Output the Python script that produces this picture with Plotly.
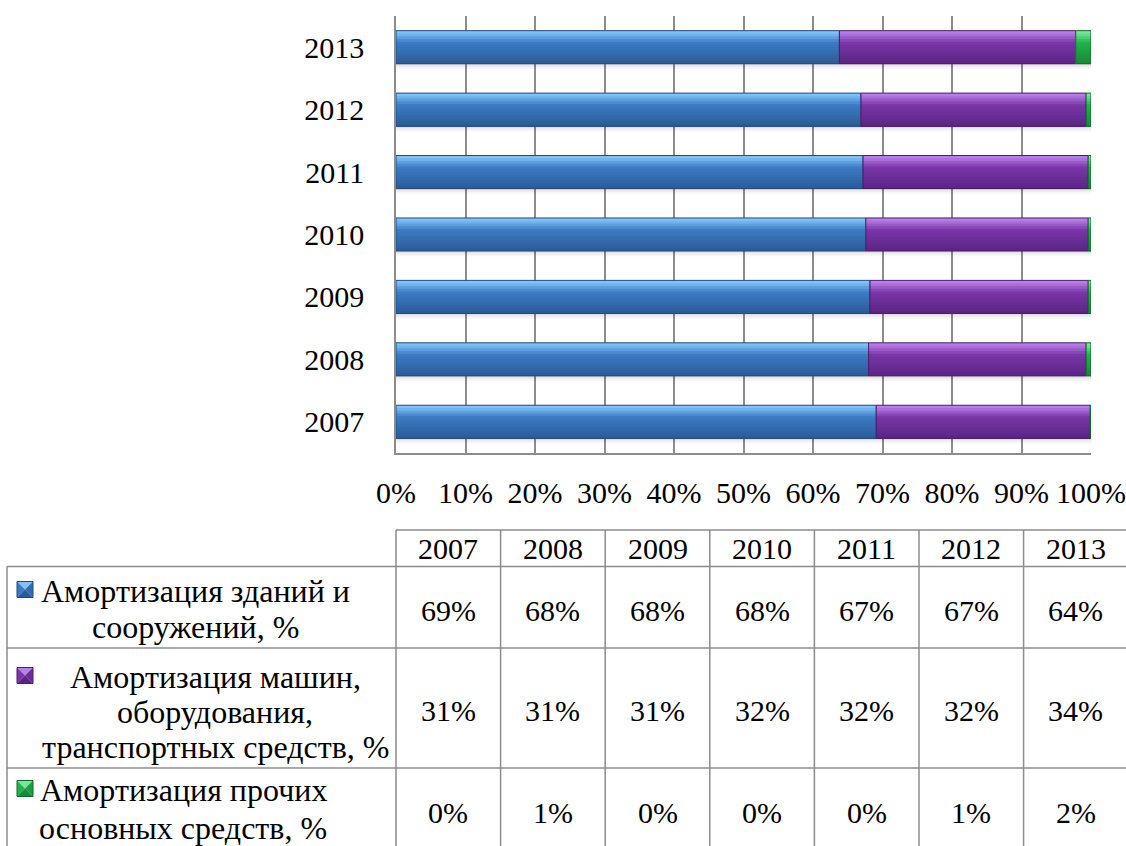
import plotly.graph_objects as go

# ---------------- data ----------------
years = ["2007", "2008", "2009", "2010", "2011", "2012", "2013"]
buildings = [69.1, 68.0, 68.2, 67.6, 67.2, 66.9, 63.8]   # Амортизация зданий и сооружений, %
machinery = [30.8, 31.3, 31.4, 32.0, 32.4, 32.4, 34.0]   # Амортизация машин, оборудования, транспортных средств, %
other = [0.1, 0.7, 0.4, 0.4, 0.4, 0.7, 2.2]              # Амортизация прочих основных средств, %
series_label_lines = [
    ["Амортизация зданий и", "сооружений, %"],
    ["Амортизация машин,", "оборудования,", "транспортных средств, %"],
    ["Амортизация прочих", "основных средств, %"],
]
x_ticks = [0, 10, 20, 30, 40, 50, 60, 70, 80, 90, 100]

# ---------------- styles ----------------
W, H = 1126, 846
PL, PR, PT, PB = 396, 1091, 16, 453          # plot area in pixels
FONT = "Liberation Serif"
FS = 30
FS_LABEL = 32
GRID = "#8c8c8c"
palettes = [
    # light, mid, dark, edge
    ("#82c2f8", "#3c7bc4", "#2b5b97", "#234a7c"),
    ("#b97fe9", "#7a36a8", "#5b2484", "#4a1d6c"),
    ("#74e897", "#21b34a", "#168a36", "#0f6a28"),
]
BAR_W = 0.53
N_STRIPES = 12


def hex2rgb(h):
    h = h.lstrip("#")
    return tuple(int(h[i:i + 2], 16) for i in (0, 2, 4))


def lerp(c1, c2, t):
    a, b = hex2rgb(c1), hex2rgb(c2)
    return "rgb(%d,%d,%d)" % tuple(round(a[i] + (b[i] - a[i]) * t) for i in range(3))


def grad(pal, t):
    light, mid, dark, _ = pal
    if t < 0.06:
        return lerp(light, light, 0)
    if t < 0.36:
        return lerp(light, mid, (t - 0.06) / 0.30)
    return lerp(mid, dark, (t - 0.36) / 0.64)


def px(x):
    return (x - PL) / (PR - PL)


def py(y):
    return (PB - y) / (PB - PT)


series = [buildings, machinery, other]
fig = go.Figure()

# soft shadow under each full bar
totals = [sum(v) for v in zip(*series)]
for k, a in enumerate([0.13, 0.07, 0.03]):
    fig.add_trace(go.Bar(
        y=years, x=totals, base=[0] * len(years), orientation="h",
        offset=-BAR_W / 2 - 0.028 * (k + 1), width=0.028,
        marker=dict(color="rgba(0,0,0,%.3f)" % a, line=dict(width=0)),
        hoverinfo="skip"))

# stacked segments with vertical gradient (each stripe reaches the bar bottom -> no seams)
bases = [0.0] * len(years)
for s, vals in enumerate(series):
    pal = palettes[s]
    h = BAR_W / N_STRIPES
    for i in range(N_STRIPES):
        t = (i + 0.5) / N_STRIPES
        top = BAR_W / 2 - i * h
        fig.add_trace(go.Bar(
            y=years, x=vals, base=list(bases), orientation="h",
            offset=-BAR_W / 2, width=top + BAR_W / 2,
            marker=dict(color=grad(pal, t), line=dict(width=0)),
            hoverinfo="skip"))
    fig.add_trace(go.Bar(
        y=years, x=vals, base=list(bases), orientation="h",
        offset=-BAR_W / 2, width=BAR_W,
        marker=dict(color="rgba(0,0,0,0)", line=dict(color=pal[3], width=1)),
        hovertemplate="%{y}: %{x:.1f}%<extra></extra>"))
    bases = [b + v for b, v in zip(bases, vals)]

# ---------------- data table (shapes + annotations) ----------------
shapes = []
annotations = []
col_w = 104.6
col_edges = [PL + i * col_w for i in range(len(years) + 1)]
row_y = [530, 566.5, 648, 768, 850]
line = dict(color=GRID, width=1.5)


def hline(x0, x1, y):
    shapes.append(dict(type="line", xref="paper", yref="paper",
                       x0=px(x0), x1=px(x1), y0=py(y), y1=py(y), line=line))


def vline(x, y0, y1):
    shapes.append(dict(type="line", xref="paper", yref="paper",
                       x0=px(x), x1=px(x), y0=py(y0), y1=py(y1), line=line))


hline(PL, W + 5, row_y[0])
for y in row_y[1:4]:
    hline(7, W + 5, y)
vline(7, row_y[1], H + 5)
for i, xe in enumerate(col_edges[:-1]):
    vline(xe, row_y[0], H + 5)


def txt(x, y, s, size=FS):
    annotations.append(dict(x=px(x), y=py(y), xref="paper", yref="paper",
                            text=s, showarrow=False, xanchor="center", yanchor="middle",
                            font=dict(family=FONT, size=size, color="black")))


# header years
for i, yr in enumerate(years):
    txt(col_edges[i] + col_w / 2, 548.5, yr)

# values
row_centers = [610, 710, 812]
for r, vals in enumerate(series):
    for i, v in enumerate(vals):
        txt(col_edges[i] + col_w / 2, row_centers[r], "%d%%" % round(v))

# legend labels
label_cx = [195, 215, 183]
label_y0 = [591, 677, 790]
line_step = [36, 35, 38]
for r, lines in enumerate(series_label_lines):
    for j, l in enumerate(lines):
        txt(label_cx[r], label_y0[r] + j * line_step[r], l, FS_LABEL)

# legend swatches (pyramid style)
for r in range(3):
    light, mid, dark, edge = palettes[r]
    cx, cy, hs = 25.0, label_y0[r] - 1.5, 8.0
    tl = (cx - hs, cy - hs); tr = (cx + hs, cy - hs)
    bl = (cx - hs, cy + hs); br = (cx + hs, cy + hs)
    c = (cx, cy)

    def tri(p1, p2, p3, col):
        path = "M %f,%f L %f,%f L %f,%f Z" % (px(p1[0]), py(p1[1]), px(p2[0]), py(p2[1]),
                                               px(p3[0]), py(p3[1]))
        shapes.append(dict(type="path", xref="paper", yref="paper", path=path,
                           fillcolor=col, line=dict(width=0)))

    tri(tl, tr, c, light)
    tri(tl, bl, c, mid)
    tri(tr, br, c, lerp(mid, dark, 0.5))
    tri(bl, br, c, dark)
    shapes.append(dict(type="rect", xref="paper", yref="paper",
                       x0=px(tl[0]), x1=px(br[0]), y0=py(br[1]), y1=py(tl[1]),
                       line=dict(color=edge, width=1), fillcolor="rgba(0,0,0,0)"))

fig.update_layout(
    width=W, height=H,
    margin=dict(l=PL, r=W - PR, t=PT, b=H - PB, autoexpand=False),
    barmode="overlay", showlegend=False,
    plot_bgcolor="white", paper_bgcolor="white",
    font=dict(family=FONT, size=FS, color="black"),
    shapes=shapes, annotations=annotations,
)
fig.update_xaxes(range=[0, 100], tickmode="array", tickvals=x_ticks,
                 ticktext=["%d%%" % v for v in x_ticks],
                 tickfont=dict(family=FONT, size=FS, color="black"),
                 showgrid=True, gridcolor=GRID, gridwidth=1.5, zeroline=False,
                 showline=True, linecolor=GRID, linewidth=1.5, ticks="",
                 ticklabelstandoff=12, automargin=False, fixedrange=True)
fig.update_yaxes(type="category", categoryorder="array", categoryarray=years,
                 range=[-0.5, len(years) - 0.5],
                 tickfont=dict(family=FONT, size=FS, color="black"),
                 showgrid=False, showline=True, linecolor=GRID, linewidth=1.5,
                 ticks="", ticklabelstandoff=24, automargin=False, fixedrange=True)

fig.write_html("out.html")
